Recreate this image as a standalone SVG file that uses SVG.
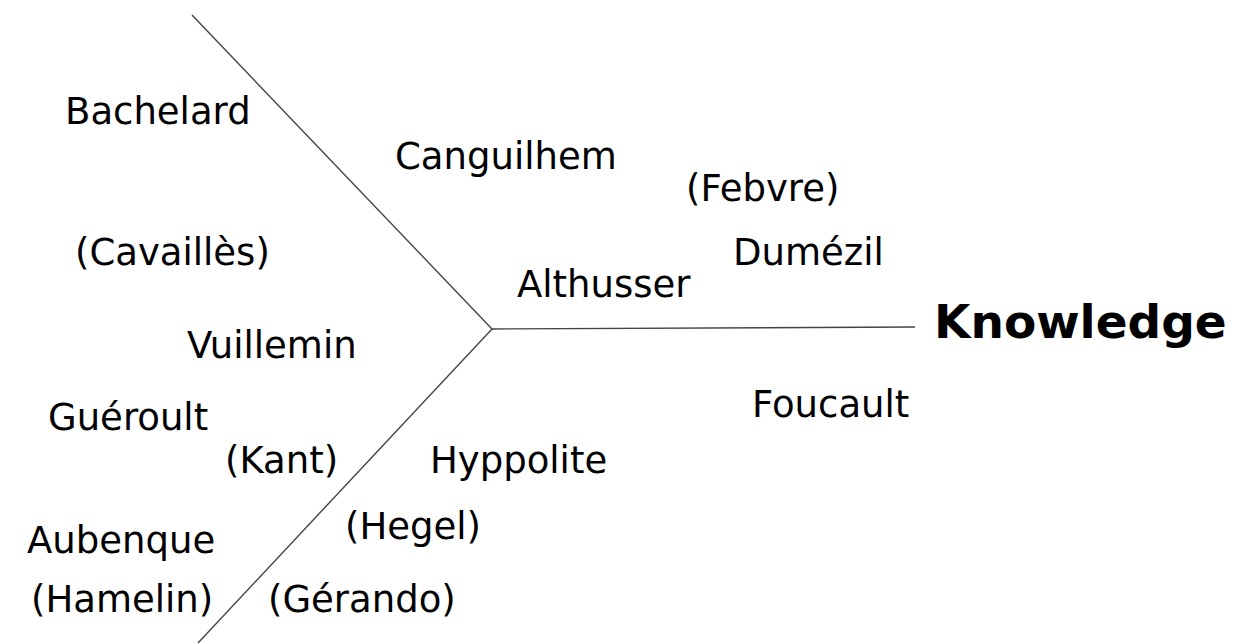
<svg xmlns="http://www.w3.org/2000/svg" width="1238" height="644" viewBox="0 0 1238 644">
<style>
text{font-family:"DejaVu Sans",sans-serif;font-size:37px;fill:#000}
.k{font-weight:bold;font-size:47px}
.ln{stroke:#444;stroke-width:1.4;fill:none}
</style>
<rect width="1238" height="644" fill="#fff"/>
<g id="connectors">
<path class="ln" d="M192,15 L492,329 L198,643"/>
<path class="ln" d="M492,329 L915,327"/>
</g>
<g id="n-bachelard"><text x="65" y="124">Bachelard</text></g>
<g id="n-canguilhem"><text x="395" y="169">Canguilhem</text></g>
<g id="n-febvre"><text x="686" y="201">(Febvre)</text></g>
<g id="n-dumezil"><text x="733" y="265">Dumézil</text></g>
<g id="n-cavailles"><text x="75" y="265">(Cavaillès)</text></g>
<g id="n-althusser"><text x="517" y="297">Althusser</text></g>
<g id="n-knowledge"><text class="k" x="934" y="338">Knowledge</text></g>
<g id="n-vuillemin"><text x="187" y="358">Vuillemin</text></g>
<g id="n-foucault"><text x="752" y="417">Foucault</text></g>
<g id="n-gueroult"><text x="48" y="430">Guéroult</text></g>
<g id="n-kant"><text x="225" y="473">(Kant)</text></g>
<g id="n-hyppolite"><text x="430" y="473">Hyppolite</text></g>
<g id="n-hegel"><text x="345" y="539">(Hegel)</text></g>
<g id="n-aubenque"><text x="27" y="553">Aubenque</text></g>
<g id="n-hamelin"><text x="31" y="612">(Hamelin)</text></g>
<g id="n-gerando"><text x="268" y="612">(Gérando)</text></g>
</svg>
